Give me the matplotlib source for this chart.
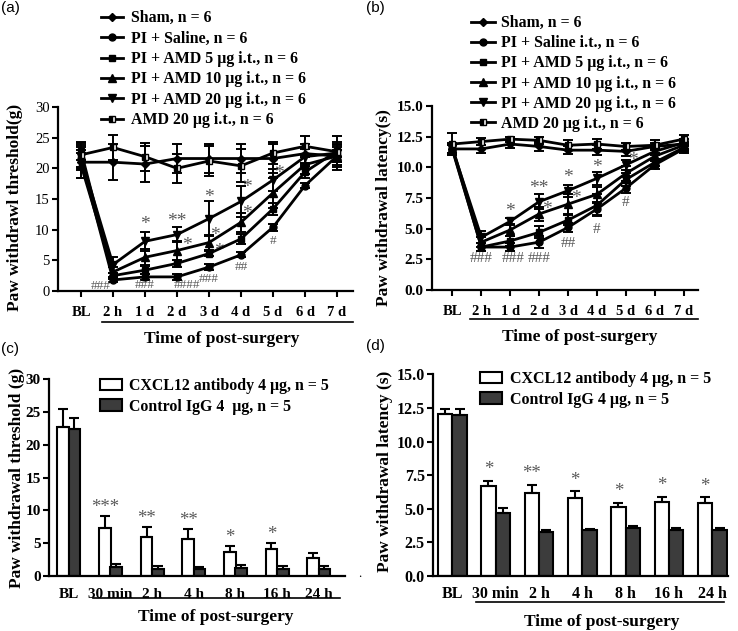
import matplotlib
matplotlib.use('Agg')
import matplotlib.pyplot as plt
import matplotlib.transforms as mtransforms
from matplotlib.lines import Line2D
from matplotlib.patches import Patch

W, H = 738, 631
plt.rcParams['font.family'] = ['Liberation Serif', 'DejaVu Serif']

# ---------------- data ----------------
time_labels = ["BL", "2 h", "1 d", "2 d", "3 d", "4 d", "5 d", "6 d", "7 d"]

a_labels = ["Sham, n = 6", "PI + Saline, n = 6", "PI + AMD 5 µg i.t., n = 6",
            "PI + AMD 10 µg i.t., n = 6", "PI + AMD 20 µg i.t., n = 6", "AMD 20 µg i.t., n = 6"]
b_labels = ["Sham, n = 6", "PI + Saline i.t., n = 6", "PI + AMD 5 µg i.t., n = 6",
            "PI + AMD 10 µg i.t., n = 6", "PI + AMD 20 µg i.t., n = 6", "AMD 20 µg i.t., n = 6"]

# panel (a): paw withdrawal threshold (g)
a_sham = [21.0, 21.0, 20.7, 21.6, 21.6, 21.6, 21.6, 22.4, 22.0]
a_sham_err = [2.5, 2.9, 3.0, 2.3, 2.4, 2.3, 2.4, 1.5, 2.3]
a_saline = [21.5, 1.8, 2.3, 2.3, 3.9, 5.9, 10.4, 17.2, 22.0]
a_saline_err = [1.5, 0.4, 0.5, 0.5, 0.5, 0.4, 0.6, 0.4, 1.0]
a_amd5 = [22.8, 2.5, 3.4, 4.5, 6.1, 8.5, 13.4, 19.4, 22.8]
a_amd5_err = [1.5, 0.5, 0.6, 0.6, 0.4, 0.8, 1.0, 1.0, 1.0]
a_amd10 = [20.5, 3.1, 5.5, 6.6, 7.9, 11.2, 16.0, 20.6, 22.0]
a_amd10_err = [2.0, 0.8, 1.3, 1.5, 1.2, 1.5, 2.5, 1.5, 1.5]
a_amd20 = [21.8, 4.3, 8.1, 9.2, 11.8, 14.6, 18.1, 21.9, 22.5]
a_amd20_err = [2.0, 1.3, 1.6, 1.2, 2.9, 2.6, 1.8, 1.2, 1.5]
a_amdonly = [22.2, 23.4, 21.9, 20.0, 21.2, 20.4, 22.5, 23.6, 22.7]
a_amdonly_err = [2.0, 2.0, 2.3, 2.4, 2.5, 2.7, 1.8, 1.7, 2.5]

a_marks = ["*", "**", "*", "*", "*", "*", "*", "*", "*",
           "#", "##", "###", "####", "###", "###"]
a_mark_x = [2.0, 3.0, 3.3, 4.0, 4.2, 4.3, 5.17, 5.2, 6.2,
            6.0, 5.0, 4.0, 3.3, 2.0, 0.6]
a_mark_y = [11.6, 12.1, 8.3, 16.0, 9.9, 7.3, 17.7, 13.5, 19.9,
            8.2, 3.9, 2.0, 0.9, 0.9, 0.8]

# panel (b): paw withdrawal latency (s)
b_sham = [11.5, 11.5, 11.9, 11.7, 11.4, 11.4, 11.3, 11.7, 11.9]
b_sham_err = [0.4, 0.3, 0.3, 0.4, 0.3, 0.4, 0.4, 0.3, 0.4]
b_saline = [11.5, 3.5, 3.5, 3.9, 5.1, 6.6, 8.3, 10.2, 11.5]
b_saline_err = [0.3, 0.3, 0.3, 0.5, 0.4, 0.5, 0.4, 0.3, 0.3]
b_amd5 = [11.4, 3.5, 4.0, 4.7, 5.7, 6.9, 9.0, 10.4, 11.6]
b_amd5_err = [0.4, 0.3, 0.4, 0.5, 0.4, 0.9, 0.5, 0.3, 0.3]
b_amd10 = [11.6, 3.9, 4.9, 6.2, 7.0, 7.8, 9.5, 10.9, 11.8]
b_amd10_err = [0.4, 0.4, 0.5, 0.6, 0.8, 0.6, 0.6, 0.3, 0.3]
b_amd20 = [11.5, 4.3, 5.6, 7.2, 8.1, 9.1, 10.2, 11.3, 12.0]
b_amd20_err = [0.3, 0.5, 0.3, 0.6, 0.5, 0.5, 0.4, 0.3, 0.3]
b_amdonly = [11.9, 12.1, 12.3, 12.2, 11.8, 11.9, 11.7, 11.8, 12.3]
b_amdonly_err = [0.9, 0.3, 0.2, 0.3, 0.4, 0.4, 0.3, 0.4, 0.3]

b_marks = ["*", "**", "*", "*", "*", "*", "*",
           "#", "#", "##", "###", "###", "###"]
b_mark_x = [2.0, 3.0, 3.28, 4.0, 4.27, 5.0, 6.26,
            6.0, 5.0, 4.0, 3.0, 2.1, 1.0]
b_mark_y = [6.8, 8.7, 7.0, 9.6, 7.9, 10.4, 11.0,
            7.1, 4.9, 3.8, 2.6, 2.6, 2.6]

# panels (c), (d): bars
bar_cats = ["BL", "30 min", "2 h", "4 h", "8 h", "16 h", "24 h"]
bar_labels = ["CXCL12 antibody 4 µg, n = 5", "Control IgG 4  µg, n = 5"]
bar_labels_d = ["CXCL12 antibody 4 µg, n = 5", "Control IgG 4 µg, n = 5"]

c_anti = [22.7, 7.3, 5.9, 5.7, 3.7, 4.1, 2.7]
c_anti_err = [2.7, 1.9, 1.6, 1.4, 0.8, 1.0, 0.8]
c_igg = [22.4, 1.4, 1.1, 1.0, 1.2, 1.1, 1.1]
c_igg_err = [1.7, 0.5, 0.5, 0.3, 0.5, 0.5, 0.5]
c_stars = ["", "***", "**", "**", "*", "*", ""]

d_anti = [12.05, 6.7, 6.15, 5.8, 5.1, 5.5, 5.4]
d_anti_err = [0.35, 0.4, 0.65, 0.5, 0.35, 0.4, 0.45]
d_igg = [12.0, 4.65, 3.3, 3.4, 3.6, 3.4, 3.45]
d_igg_err = [0.4, 0.4, 0.15, 0.1, 0.1, 0.15, 0.1]
d_stars = ["", "*", "**", "*", "*", "*", "*"]

# ---------------- figure ----------------
fig = plt.figure(figsize=(W / 100, H / 100), dpi=100)


def px_axes(l, t, r, b):
    return fig.add_axes([l / W, 1 - b / H, (r - l) / W, (b - t) / H])


def style_axes(ax):
    for s in ['top', 'right']:
        ax.spines[s].set_visible(False)
    for s in ['left', 'bottom']:
        ax.spines[s].set_linewidth(1.6)
    ax.tick_params(direction='out', length=4, width=1.5, pad=2)


def hline_px(x0, x1, y):
    fig.add_artist(Line2D([x0 / W, x1 / W], [1 - y / H, 1 - y / H],
                          transform=fig.transFigure, color='black', lw=1.2))


def ftext(x, y, s, **kw):
    fig.text(x / W, 1 - y / H, s, **kw)


markers = ['D', 'o', 's', '^', 'v', 's']
ms = [4, 5, 5, 5.5, 5.5, 5]
GREY = '#5a5a5a'


def line_panel(ax, series, errs, ylim, yticks, yfmt, ytick_bold, ytick_size):
    x = list(range(len(time_labels)))
    handles = []
    for i, (y, e) in enumerate(zip(series, errs)):
        kw = {}
        if i == 5:
            kw = dict(fillstyle='left', markerfacecoloralt='white')
        ax.errorbar(x, y, yerr=e, color='black', lw=2, marker=markers[i], ms=ms[i],
                    capsize=3.5, elinewidth=1.4, capthick=1.4, clip_on=False, zorder=3,
                    markeredgecolor='black', **kw)
        handles.append(Line2D([], [], color='black', lw=2, marker=markers[i], ms=ms[i], **kw))
    ax.set_xlim(-0.72, 8.5)
    ax.set_ylim(*ylim)
    ax.set_yticks(yticks)
    ax.set_yticklabels([yfmt.format(v) for v in yticks],
                       fontweight='bold' if ytick_bold else 'normal', fontsize=ytick_size)
    ax.set_xticks(x)
    ax.set_xticklabels(time_labels, fontweight='bold', fontsize=10.5)
    style_axes(ax)
    ax.tick_params(axis='x', pad=7)
    return handles


def add_marks(ax, marks, xs, ys, star_size, hash_size):
    star_tr = mtransforms.offset_copy(ax.transData, fig=fig, x=0, y=-5, units='dots')
    for s, x, y in zip(marks, xs, ys):
        if s.startswith('*'):
            ax.text(x, y, s, color=GREY, fontsize=star_size, ha='center', va='center',
                    transform=star_tr)
        else:
            ax.text(x, y, s, color=GREY, fontsize=hash_size, ha='center', va='center')


leg_kw = dict(bbox_transform=fig.transFigure, frameon=False, borderpad=0, borderaxespad=0,
              loc='upper left')

# (a)
ax_a = px_axes(58, 107, 353, 291)
h_a = line_panel(ax_a, [a_sham, a_saline, a_amd5, a_amd10, a_amd20, a_amdonly],
                 [a_sham_err, a_saline_err, a_amd5_err, a_amd10_err, a_amd20_err, a_amdonly_err],
                 (0, 30), [0, 5, 10, 15, 20, 25, 30], "{:d}", False, 10.5)
add_marks(ax_a, a_marks, a_mark_x, a_mark_y, 14, 9.5)
fig.legend(h_a, a_labels, bbox_to_anchor=(101 / W, 1 - 10.2 / H),
           handlelength=1.4, handletextpad=0.5, labelspacing=0.28,
           prop={'weight': 'bold', 'size': 11.4}, **leg_kw)

# (b)
ax_b = px_axes(431.7, 106, 698, 290)
h_b = line_panel(ax_b, [b_sham, b_saline, b_amd5, b_amd10, b_amd20, b_amdonly],
                 [b_sham_err, b_saline_err, b_amd5_err, b_amd10_err, b_amd20_err, b_amdonly_err],
                 (0, 15), [0, 2.5, 5, 7.5, 10, 12.5, 15], "{:.1f}", True, 11)
add_marks(ax_b, b_marks, b_mark_x, b_mark_y, 14, 11)
fig.legend(h_b, b_labels, bbox_to_anchor=(471 / W, 1 - 15.2 / H),
           handlelength=1.5, handletextpad=0.4, labelspacing=0.26,
           prop={'weight': 'bold', 'size': 11.4}, **leg_kw)


def bar_panel(ax, anti, anti_err, igg, igg_err, stars, star_off, width, off, ylim, yticks, yfmt,
              xlim, ticksize, xpad):
    x = list(range(len(bar_cats)))
    xa = [v - off for v in x]
    xg = [v + off for v in x]
    ax.bar(xa, anti, width, color='white', edgecolor='black', lw=1.5, zorder=2,
           yerr=[[0] * len(anti), anti_err], capsize=3.5,
           error_kw=dict(elinewidth=1.5, capthick=1.5, ecolor='black'))
    ax.bar(xg, igg, width, color='#3c3c3c', edgecolor='black', lw=1.5, zorder=2,
           yerr=[[0] * len(igg), igg_err], capsize=3.5,
           error_kw=dict(elinewidth=1.5, capthick=1.5, ecolor='black'))
    for xi, v, e, s in zip(xa, anti, anti_err, stars):
        if s:
            ax.text(xi, v + e + star_off, s, color=GREY, fontsize=13.5, ha='center', va='center')
    ax.set_xlim(*xlim)
    ax.set_ylim(*ylim)
    ax.set_yticks(yticks)
    ax.set_yticklabels([yfmt.format(v) for v in yticks], fontweight='bold', fontsize=ticksize)
    ax.set_xticks(x)
    ax.set_xticklabels(bar_cats, fontweight='bold', fontsize=ticksize)
    style_axes(ax)
    ax.tick_params(axis='x', length=0, pad=xpad)


hc = [Patch(facecolor='white', edgecolor='black', lw=1.5),
      Patch(facecolor='#3c3c3c', edgecolor='black', lw=1.5)]

# (c)
ax_c = px_axes(49.3, 379.3, 345, 576)
bar_panel(ax_c, c_anti, c_anti_err, c_igg, c_igg_err, c_stars, 1.3, 0.28, 0.135,
          (0, 30), [0, 5, 10, 15, 20, 25, 30], "{:d}", (-0.47, 6.63), 11, 8.5)
fig.legend(hc, bar_labels, bbox_to_anchor=(100 / W, 1 - 378 / H),
           handlelength=1.4, handleheight=0.75, handletextpad=0.45, labelspacing=0.3,
           prop={'weight': 'bold', 'size': 11.4}, **leg_kw)

# (d)
ax_d = px_axes(433.3, 374.3, 728.3, 576)
bar_panel(ax_d, d_anti, d_anti_err, d_igg, d_igg_err, d_stars, 0.8, 0.33, 0.168,
          (0, 15), [0, 2.5, 5, 7.5, 10, 12.5, 15], "{:.1f}", (-0.44, 6.37), 11.5, 7)
fig.legend(hc, bar_labels_d, bbox_to_anchor=(480 / W, 1 - 371 / H),
           handlelength=1.4, handleheight=0.75, handletextpad=0.45, labelspacing=0.3,
           prop={'weight': 'bold', 'size': 11.5}, **leg_kw)

# axis titles
lab_kw = dict(fontweight='bold', fontsize=12.5, ha='center', va='center')
ftext(15, 207, "Paw withdrawl threshold(g)", rotation=90, **lab_kw)
ftext(384, 208, "Paw withdrawal latency(s)", rotation=90, **lab_kw)
ftext(17, 478, "Paw withdrawal threshold (g)", rotation=90, **lab_kw)
ftext(385, 471, "Paw withdrawal latency (s)", rotation=90, **lab_kw)
ftext(222, 339, "Time of post-surgery", **lab_kw)
ftext(580, 337, "Time of post-surgery", **lab_kw)
ftext(216, 617, "Time of post-surgery", **lab_kw)
ftext(602, 622, "Time of post-surgery", **lab_kw)

# underlines below post-surgery tick labels
hline_px(101.7, 353.3, 321.7)
hline_px(470, 697.7, 319.3)
hline_px(93, 340, 598)
hline_px(476, 724, 601.7)

# panel letters
pl_kw = dict(family='Liberation Sans', fontsize=11, ha='left', va='center')
ftext(1, 8, "(a)", **pl_kw)
ftext(366, 8, "(b)", **pl_kw)
ftext(1, 349, "(c)", **pl_kw)
ftext(366, 346, "(d)", **pl_kw)
ftext(358, 574, ".", fontsize=9, ha='left', va='center')

fig.savefig('out.png', dpi=100)
